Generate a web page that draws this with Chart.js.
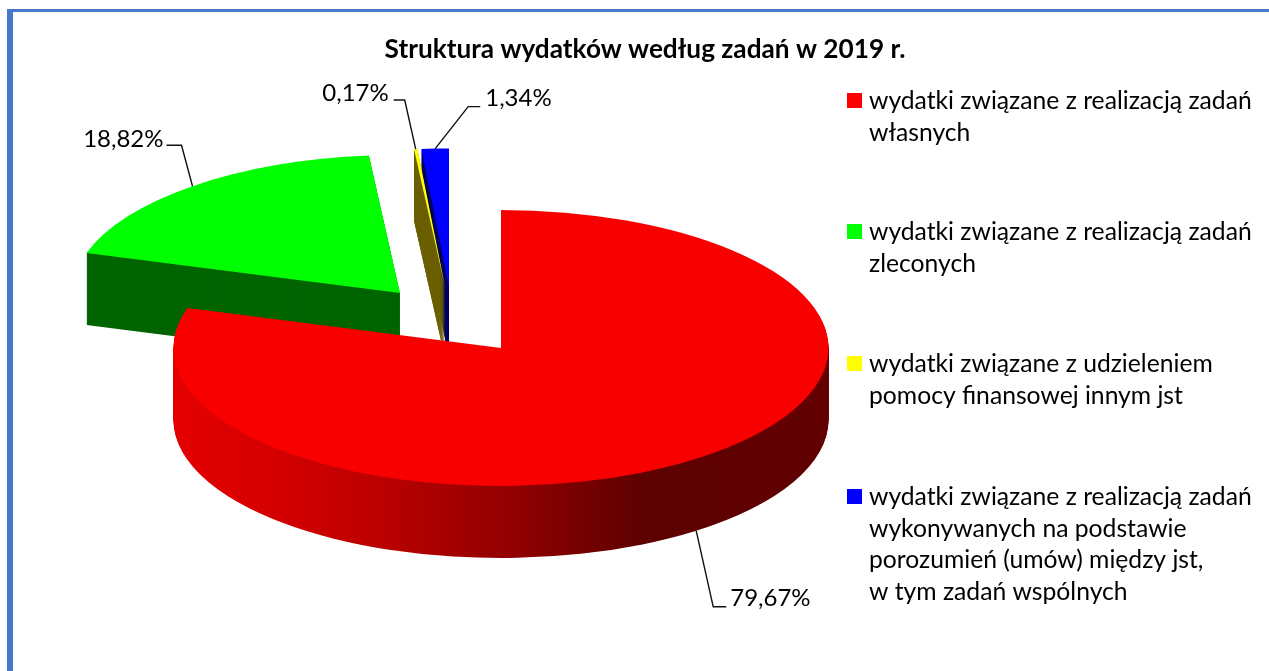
<!DOCTYPE html>
<html lang="pl"><head><meta charset="utf-8">
<script src="https://cdn.jsdelivr.net/npm/chart.js@4"></script>
<style>
html,body{margin:0;padding:0;background:#fff;width:1269px;height:671px;overflow:hidden}
#topRule{position:absolute;left:7px;top:9px;width:1262px;height:3px;background:#4a78c8}
#leftRule{position:absolute;left:7px;top:9px;width:6px;height:662px;background:#4a78c8}
#wrap{position:absolute;left:21px;top:0;width:1248px;height:671px}
</style></head><body>
<div id="topRule"></div><div id="leftRule"></div>
<div id="wrap"><canvas id="c" width="1248" height="671"></canvas></div>
<script>
const TITLE = 'Struktura wydatków według zadań w 2019 r.';
const categories = ['wydatki związane z realizacją zadań własnych','wydatki związane z realizacją zadań zleconych','wydatki związane z udzieleniem pomocy finansowej innym jst','wydatki związane z realizacją zadań wykonywanych na podstawie porozumień (umów) między jst, w tym zadań wspólnych'];
const legendLines = [
  ['wydatki związane z realizacją zadań','własnych'],
  ['wydatki związane z realizacją zadań','zleconych'],
  ['wydatki związane z udzieleniem','pomocy finansowej innym jst'],
  ['wydatki związane z realizacją zadań','wykonywanych na podstawie','porozumień (umów) między jst,','w tym zadań wspólnych']
];
const values = [79.67, 18.82, 0.17, 1.34];
const valueLabels = ['79,67%','18,82%','0,17%','1,34%'];
const topColors = ['#f80000','#00ff00','#ffff00','#0000ff'];
const swatchColors = ['#ff0000','#00ff00','#ffff00','#0000ff'];
const sideColors = [null,'#006400','#6b6000','#000064'];

// view of the tilted pie
const CX = 480, CY = 348, RADIUS = 327.5, TILT = 138/327.5, DEPTH = 72, FONT = 'Lato, "Open Sans", sans-serif';
const shifts = [[0,0],[-101,-55],[-56,-61.5],[-52,-61.5]];   // exploded slices, screen px
const drawOrder = [1,3,2,0];
const leaders = [ // elbow and text anchor relative to the slice's rim point
  {elbow:[17,76],end:[30,76],text:[34,75],align:'left'},
  {elbow:[-11,-41],end:[-26,-41],text:[-29,-39],align:'right'},
  {elbow:[-11,-49],end:[-22,-49],text:[-27,-48],align:'right'},
  {elbow:[33,-42],end:[45,-42],text:[50,-43],align:'left'}
];
const legendY = [101,232,364,497], legendLineH = 31.7, legendX = 848, swatchX = 826, SW = 15;

const pie3d = {
  id:'pie3d',
  beforeDatasetDraw(){ return false; },
  afterDatasetsDraw(chart){
    const ctx = chart.ctx, meta = chart.getDatasetMeta(0);
    const ex = meta.data[0].x;  // fills live in the element's own x
    const grad = ctx.createLinearGradient(ex-RADIUS,0,ex+RADIUS,0);
    grad.addColorStop(0,'#e40000');
    grad.addColorStop(0.13,'#d80000');
    grad.addColorStop(0.33,'#b80000');
    grad.addColorStop(0.525,'#900000');
    grad.addColorStop(0.72,'#5c0000');
    grad.addColorStop(1,'#620000');
    const paint = (el,i,dy,color)=>{
      ctx.save();
      ctx.translate(CX+shifts[i][0], CY+shifts[i][1]+dy);
      ctx.scale(1,TILT);
      ctx.translate(-el.x,-el.y);
      const o = el.options;
      el.options = Object.assign({},o,{backgroundColor:color});
      el.draw(ctx);
      el.options = o;
      ctx.restore();
    };
    drawOrder.forEach(i=>{
      const el = meta.data[i];
      for(let d=DEPTH;d>0;d--) paint(el,i,d,sideColors[i]||grad);
      paint(el,i,0,topColors[i]);
    });
    // value labels with leader lines
    ctx.save();
    ctx.font = '24px '+FONT; ctx.textBaseline='alphabetic';
    meta.data.forEach((el,i)=>{
      const a = (el.startAngle+el.endAngle)/2;
      const px = CX+shifts[i][0]+Math.cos(a)*RADIUS;
      const py = CY+shifts[i][1]+Math.sin(a)*RADIUS*TILT+(i===0?DEPTH:0);
      const L = leaders[i];
      ctx.strokeStyle='#111'; ctx.lineWidth=1.4;
      ctx.beginPath(); ctx.moveTo(px,py);
      ctx.lineTo(px+L.elbow[0],py+L.elbow[1]);
      ctx.lineTo(px+L.end[0],py+L.end[1]); ctx.stroke();
      ctx.fillStyle='#000'; ctx.textAlign=L.align;
      ctx.fillText(valueLabels[i],px+L.text[0],py+L.text[1]);
    });
    // legend
    ctx.font = '24.7px '+FONT;
    ctx.textAlign='left';
    legendLines.forEach((lines,i)=>{
      ctx.fillStyle=swatchColors[i];
      ctx.fillRect(swatchX,legendY[i]-8,SW,SW);
      ctx.fillStyle='#000';
      lines.forEach((t,j)=>ctx.fillText(t,legendX,legendY[i]+8+j*legendLineH));
    });
    ctx.restore();
  }
};

new Chart(document.getElementById('c'),{
  type:'pie',
  data:{labels:categories,datasets:[{data:values,backgroundColor:topColors,borderWidth:0}]},
  options:{
    responsive:false,animation:false,radius:RADIUS,
    plugins:{
      legend:{display:false},tooltip:{enabled:false},
      title:{display:true,text:TITLE,color:'#000',font:{family:FONT,size:26.2,weight:'bold'},padding:{top:34,bottom:10}}
    }
  },
  plugins:[pie3d]
});
</script></body></html>
